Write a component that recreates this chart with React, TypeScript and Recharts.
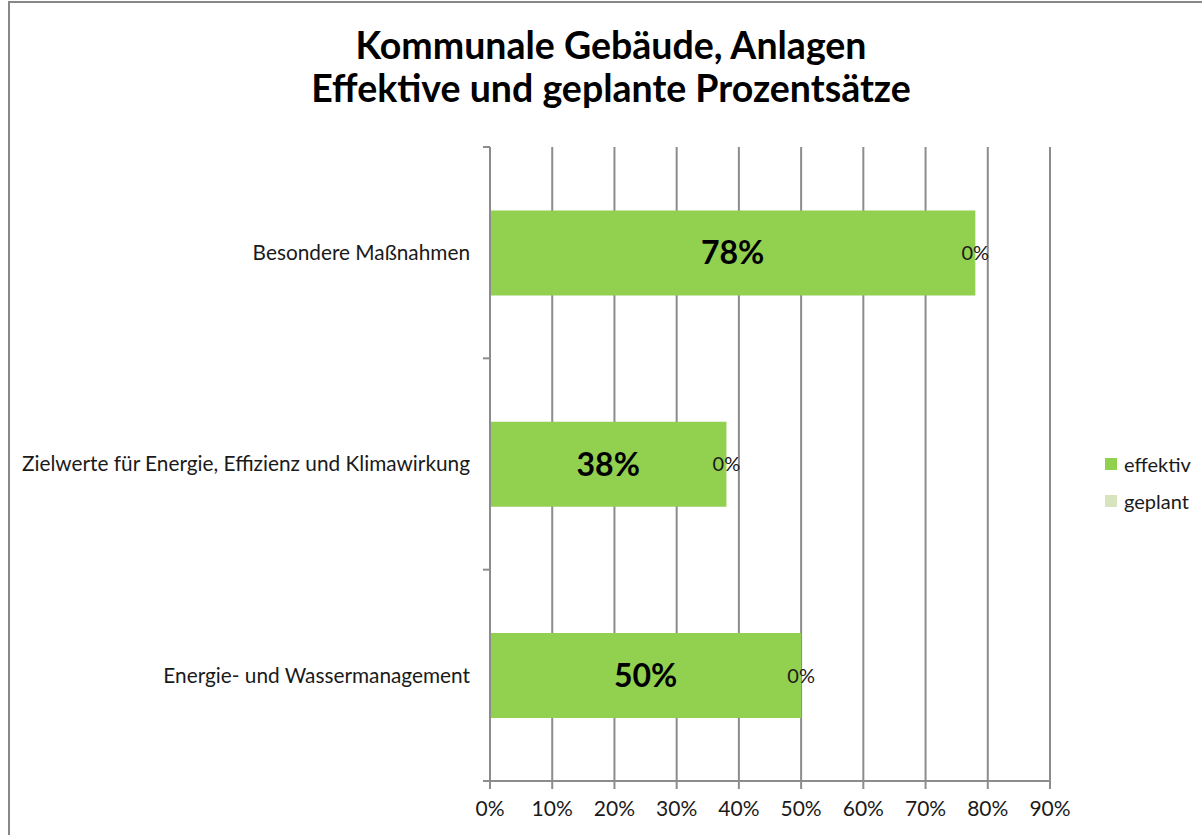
import { BarChart, Bar, XAxis, YAxis, CartesianGrid, Legend, LabelList } from "recharts";

const categories = [
  "Besondere Maßnahmen",
  "Zielwerte für Energie, Effizienz und Klimawirkung",
  "Energie- und Wassermanagement",
];
const effektiv = [78, 38, 50];
const geplant = [0, 0, 0];
const xTicks = [0, 10, 20, 30, 40, 50, 60, 70, 80, 90];

const titleLines = ["Kommunale Gebäude, Anlagen", "Effektive und geplante Prozentsätze"];

const FONT = "Lato, 'Open Sans', sans-serif";
const GRID = "#8c8c8c";
const LEGEND_W = 100;

const chartData = categories.map((name, i) => ({
  name,
  effektiv: effektiv[i],
  geplant: geplant[i],
}));

// category label plus the small ticks on the band edges (taken from the band scale offset)
function CategoryTick(props: any) {
  const { x, y, payload, index, visibleTicksCount } = props;
  const half = payload.offset || 0;
  const ax = x + 20; // text sits tickSize(6) + tickMargin(14) left of the axis
  const isLast = index === visibleTicksCount - 1;
  return (
    <g>
      <line x1={ax - 7} x2={ax} y1={y - half} y2={y - half} stroke={GRID} strokeWidth={2} />
      {isLast && <line x1={ax - 7} x2={ax} y1={y + half} y2={y + half} stroke={GRID} strokeWidth={2} />}
      <text x={x} y={y} dy="0.35em" textAnchor="end" fontSize={20.8} fill="#1a1a1a" fontFamily={FONT}>
        {payload.value}
      </text>
    </g>
  );
}

// geplant value, written where the stacked bar ends
function EndLabel(props: any) {
  const { x, y, width, height, value } = props;
  return (
    <text
      x={x + width}
      y={y + height / 2}
      dy="0.35em"
      textAnchor="middle"
      fontSize={20}
      fill="#1a1a1a"
      fontFamily={FONT}
    >
      {`${value}%`}
    </text>
  );
}

function LegendBox(props: any) {
  const { payload } = props;
  return (
    <div style={{ fontFamily: FONT, fontSize: 20, color: "#1a1a1a" }}>
      {(payload || []).map((p: any) => (
        <div key={p.value} style={{ display: "flex", alignItems: "center", height: 37 }}>
          <span style={{ display: "inline-block", width: 12, height: 12, background: p.color, marginRight: 7 }} />
          <span>{p.value}</span>
        </div>
      ))}
    </div>
  );
}

export default function App() {
  return (
    <div style={{ position: "absolute", left: 0, top: 0, width: 1202, height: 835, background: "#fff", overflow: "hidden" }}>
      <div
        style={{
          position: "absolute",
          left: 8,
          top: 1,
          width: 1300,
          height: 900,
          borderTop: "2px solid #888",
          borderLeft: "2px solid #888",
        }}
      />
      <div
        style={{
          position: "absolute",
          left: 0,
          top: 23,
          width: 1222,
          textAlign: "center",
          fontFamily: FONT,
          fontWeight: 700,
          fontSize: 37.5,
          lineHeight: "43px",
          color: "#000",
        }}
      >
        {titleLines.map((t) => (
          <div key={t}>{t}</div>
        ))}
      </div>
      <BarChart
        width={1202}
        height={835}
        data={chartData}
        layout="vertical"
        barCategoryGap="30%"
        margin={{ top: 147, right: 152 - LEGEND_W, bottom: 24, left: 20 }}
        style={{ position: "absolute", left: 0, top: 0, fontFamily: FONT }}
      >
        <CartesianGrid horizontal={false} stroke={GRID} strokeWidth={2} />
        <YAxis
          type="category"
          dataKey="name"
          width={470}
          tickLine={false}
          tickSize={6}
          tickMargin={14}
          axisLine={{ stroke: GRID, strokeWidth: 2 }}
          tick={<CategoryTick />}
        />
        <XAxis
          type="number"
          domain={[0, 90]}
          ticks={xTicks}
          interval={0}
          height={30}
          tickFormatter={(v: number) => `${v}%`}
          axisLine={{ stroke: GRID, strokeWidth: 2 }}
          tickLine={{ stroke: GRID, strokeWidth: 2 }}
          tickSize={8}
          tickMargin={12}
          tick={{ fontSize: 21, fill: "#1a1a1a", fontFamily: FONT }}
        />
        <Legend
          verticalAlign="middle"
          align="right"
          layout="horizontal"
          width={LEGEND_W}
          wrapperStyle={{ left: 1105, top: 445 }}
          content={<LegendBox />}
        />
        <Bar dataKey="effektiv" stackId="s" fill="#92D050" isAnimationActive={false}>
          <LabelList
            dataKey="effektiv"
            position="center"
            formatter={(v: any) => `${v}%`}
            style={{ fontSize: 32, fontWeight: 700, fill: "#000", fontFamily: FONT }}
          />
          <LabelList dataKey="geplant" content={<EndLabel />} />
        </Bar>
        <Bar dataKey="geplant" stackId="s" fill="#D7E4BD" isAnimationActive={false} />
      </BarChart>
    </div>
  );
}
